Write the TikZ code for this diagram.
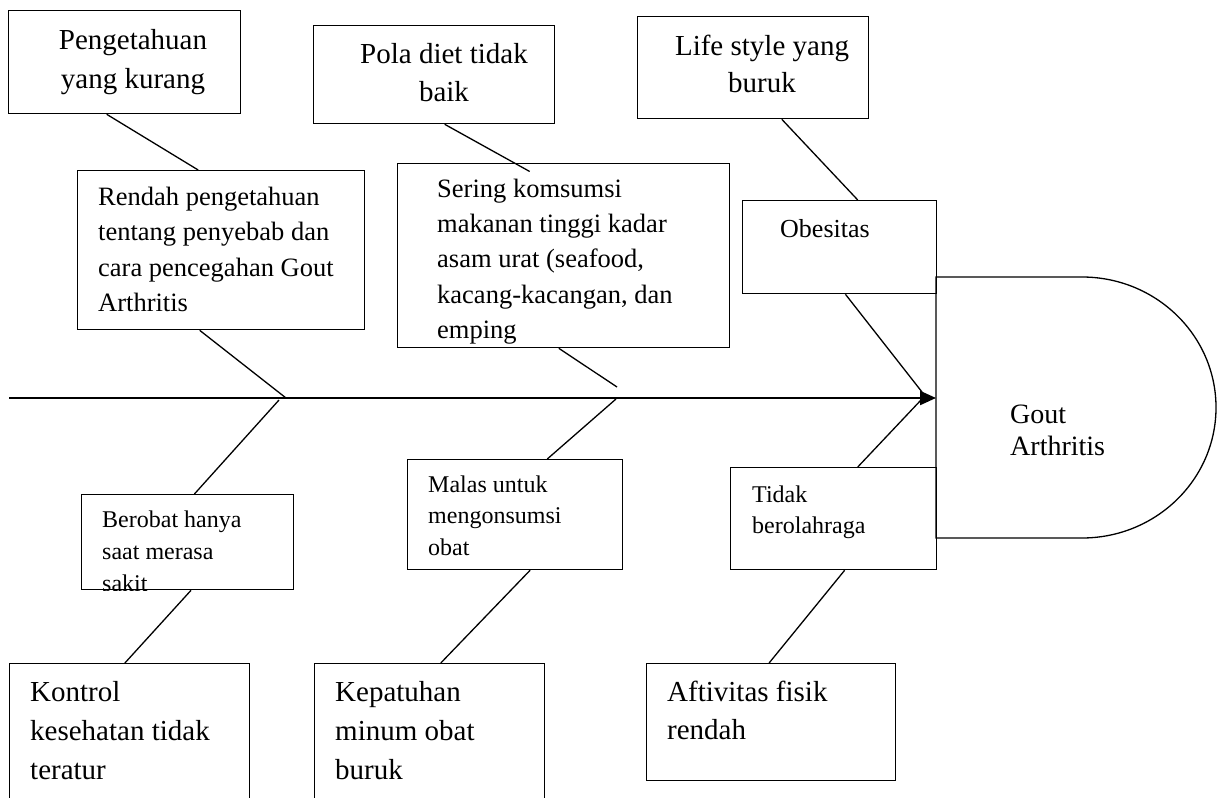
\documentclass[tikz,border=0pt]{standalone}
\usepackage{fontspec}
\setmainfont{Liberation Serif}
\usetikzlibrary{arrows.meta}

\begin{document}
\begin{tikzpicture}[x=1pt, y=-1pt,
    cause/.style={rectangle, draw, line width=1.3pt, inner sep=0pt, anchor=north west},
    bigtext/.style={font=\fontsize{29}{39}\selectfont, inner sep=0pt, anchor=north west, align=left},
    midtext/.style={font=\fontsize{26.5}{35.5}\selectfont, inner sep=0pt, anchor=north west, align=left},
    smalltext/.style={font=\fontsize{24}{31.5}\selectfont, inner sep=0pt, anchor=north west, align=left},
    goaltext/.style={font=\fontsize{28}{32}\selectfont, inner sep=0pt, anchor=north west, align=left},
    bone/.style={line width=1.3pt},
    spine/.style={line width=2.2pt, -{Triangle[length=16pt, width=14pt]}}
]
    \useasboundingbox (0,0) rectangle (1222,797);
    \clip (0,0) rectangle (1222,797);

    % upper causes
    \node[cause, minimum width=232pt, minimum height=103pt] (know) at (8,10) {};
    \node[cause, minimum width=241pt, minimum height=98pt] (diet) at (313,25) {};
    \node[cause, minimum width=231pt, minimum height=102pt] (life) at (637,16) {};
    \node[cause, minimum width=287pt, minimum height=159pt] (lowknow) at (77,170) {};
    \node[cause, minimum width=332pt, minimum height=184pt] (food) at (397,163) {};
    \node[cause, minimum width=194pt, minimum height=93pt] (obese) at (742,200) {};

    % lower causes
    \node[cause, minimum width=212pt, minimum height=95pt] (treat) at (81,494) {};
    \node[cause, minimum width=215pt, minimum height=110pt] (lazy) at (407,459) {};
    \node[cause, minimum width=206pt, minimum height=102pt] (sport) at (730,467) {};
    \node[cause, minimum width=240pt, minimum height=180pt] (control) at (9,663) {};
    \node[cause, minimum width=230pt, minimum height=180pt] (comply) at (314,663) {};
    \node[cause, minimum width=249pt, minimum height=117pt] (active) at (646,663) {};

    % texts
    \node[bigtext, anchor=north, align=center] (know-t) at (133,21.7) {\strut Pengetahuan\\yang kurang};
    \node[bigtext, anchor=north, align=center, font=\fontsize{29}{38}\selectfont] (diet-t) at (444,36.4) {\strut Pola diet tidak\\baik};
    \node[bigtext, anchor=north, align=center, font=\fontsize{29}{37}\selectfont] (life-t) at (762,29.1) {\strut Life style yang\\buruk};
    \node[midtext] (lowknow-t) at (98,180) {\strut Rendah pengetahuan\\tentang penyebab dan\\cara pencegahan Gout\\Arthritis};
    \node[midtext, font=\fontsize{26.5}{35.3}\selectfont] (food-t) at (437,172.3) {\strut Sering komsumsi\\makanan tinggi kadar\\asam urat (seafood,\\kacang-kacangan, dan\\emping};
    \node[midtext, font=\fontsize{26}{31}\selectfont] (obese-t) at (780,215.3) {\strut Obesitas};
    \begin{scope}
        \clip (treat.south west) rectangle (treat.north east);
        \node[smalltext, font=\fontsize{24}{32}\selectfont] (treat-t) at (102,504.6) {\strut Berobat hanya\\saat merasa\\sakit};
    \end{scope}
    \node[smalltext] (lazy-t) at (428,470) {\strut Malas untuk\\mengonsumsi\\obat};
    \node[smalltext, font=\fontsize{24}{31}\selectfont] (sport-t) at (752,480.3) {\strut Tidak\\berolahraga};
    \node[bigtext] (control-t) at (30,673.7) {\strut Kontrol\\kesehatan tidak\\teratur};
    \node[bigtext] (comply-t) at (335,673.7) {\strut Kepatuhan\\minum obat\\buruk};
    \node[bigtext, font=\fontsize{29}{38}\selectfont] (active-t) at (667,674.4) {\strut Aftivitas fisik\\rendah};

    % head
    \draw[bone] (936,277) -- (1082,277) arc[start angle=90, end angle=-90, x radius=134pt, y radius=130.5pt] -- (936,538) -- cycle;
    \node[goaltext] (goal) at (1010,400.6) {\strut Gout\\Arthritis};

    % spine and bones
    \coordinate (tail) at (9,398);
    \coordinate (head) at (936,398);
    \coordinate (j1) at (286,398);
    \coordinate (j2) at (279,400);
    \coordinate (j3) at (617,387);
    \coordinate (j4) at (616,399);
    \coordinate (j5) at (922,392);
    \coordinate (j6) at (921,400);
    \draw[spine] (tail) -- (head);

    \draw[bone] (know.-109) -- (lowknow.106);
    \draw[bone] (lowknow.-105) -- (j1);
    \draw[bone] (j2) -- (treat.82);
    \draw[bone] (treat.-86) -- (control.93);
    \draw[bone, shorten >=-17.5pt] (diet.-78) -- (food.118);
    \draw[bone] (food.-93) -- (j3);
    \draw[bone] (j4) -- (lazy.60);
    \draw[bone] (lazy.-75) -- (comply.83);
    \draw[bone] (life.-61) -- (obese.69);
    \draw[bone] (obese.-83) -- (j5);
    \draw[bone] (sport.65) -- (j6);
    \draw[bone] (sport.-78) -- (active.92);
\end{tikzpicture}
\end{document}
